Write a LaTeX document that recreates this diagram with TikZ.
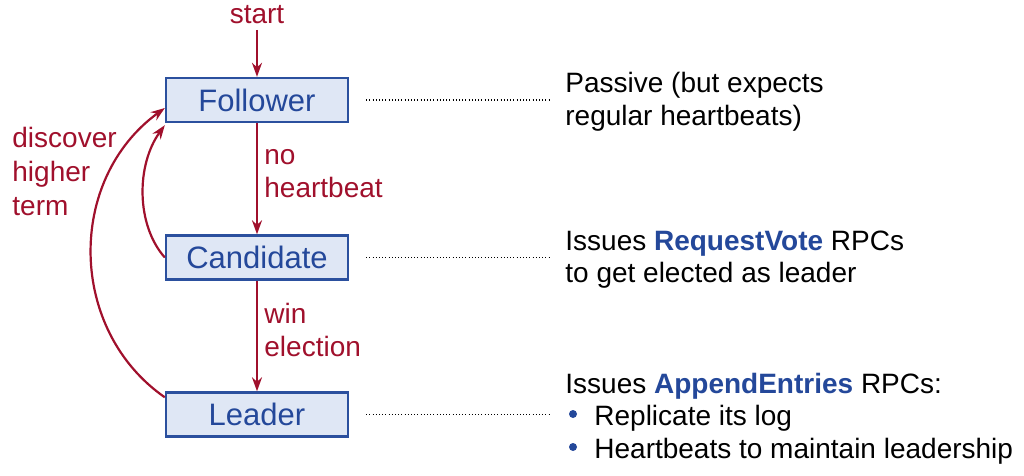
\documentclass[tikz,border=0pt]{standalone}
\usepackage{fontspec}
\setmainfont{Liberation Sans}
\usetikzlibrary{arrows.meta}
\definecolor{rred}{RGB}{160,16,44}
\definecolor{bblue}{RGB}{36,72,154}
\definecolor{bfill}{RGB}{223,231,245}
\definecolor{bline}{RGB}{43,80,158}
\tikzset{
  state/.style={draw=bline,line width=1.2pt,fill=bfill,text=bblue,minimum width=91pt,minimum height=22pt,inner sep=0pt,font=\fontsize{15.5}{18}\selectfont},
  lbl/.style={text=rred,anchor=base west,inner sep=0pt,font=\fontsize{14}{16}\selectfont},
  desc/.style={anchor=base west,inner sep=0pt,font=\fontsize{14}{16}\selectfont},
  arr/.style={draw=rred,line width=1.1pt,-{Stealth[length=7pt,width=5pt]}},
  dots/.style={line width=0.7pt,dash pattern=on 0.5pt off 1.1pt},
}
\begin{document}
\begin{tikzpicture}[x=0.5pt,y=-0.5pt]
\useasboundingbox (0,0) rectangle (1024,476);
\node[state] (fol) at (257,100) {Follower};
\node[state] (cand) at (257,257.5) {Candidate};
\node[state] (lead) at (257,414.5) {Leader};
% start
\node[lbl,anchor=base] (start) at (257,24) {start};
\coordinate (s0) at (257,30);
\draw[arr] (s0) -- (fol.north);
\draw[arr] (fol.south) -- (cand.north);
\draw[arr] (cand.south) -- (lead.north);
\node[lbl] (nh1) at (264,165) {no};
\node[lbl] (nh2) at (264,198) {heartbeat};
\node[lbl] (we1) at (264,323) {win};
\node[lbl] (we2) at (264,357) {election};
% back arrows
\draw[arr] (cand.west) .. controls (136,225) and (136,165) .. ([yshift=-1pt]fol.south west);
\draw[arr] ([yshift=-3pt]lead.north west) .. controls (68,330) and (66,180) .. ([yshift=-4pt]fol.west);
\node[lbl] (dh1) at (12,148) {discover};
\node[lbl] (dh2) at (12,182) {higher};
\node[lbl] (dh3) at (12,215) {term};
% descriptions
\node[desc] (p1) at (565,93) {Passive (but expects};
\node[desc] (p2) at (565,126) {regular heartbeats)};
\node[desc] (c1) at (565,250) {Issues \textcolor{bblue}{\textbf{RequestVote}} RPCs};
\node[desc] (c2) at (565,283) {to get elected as leader};
\node[desc] (l1) at (565,393) {Issues \textcolor{bblue}{\textbf{AppendEntries}} RPCs:};
\node[desc] (l2) at (594,425) {Replicate its log};
\node[desc] (l3) at (594,458) {Heartbeats to maintain leadership};
\fill[bblue] (573,414) circle (2pt);
\fill[bblue] (573,447) circle (2pt);
% dotted leaders
\coordinate (d1) at (550,100);
\coordinate (d2) at (550,257.5);
\coordinate (d3) at (550,414.5);
\draw[dots] ([xshift=8.5pt]fol.east) -- (d1);
\draw[dots] ([xshift=8.5pt]cand.east) -- (d2);
\draw[dots] ([xshift=8.5pt]lead.east) -- (d3);
\end{tikzpicture}
\end{document}
